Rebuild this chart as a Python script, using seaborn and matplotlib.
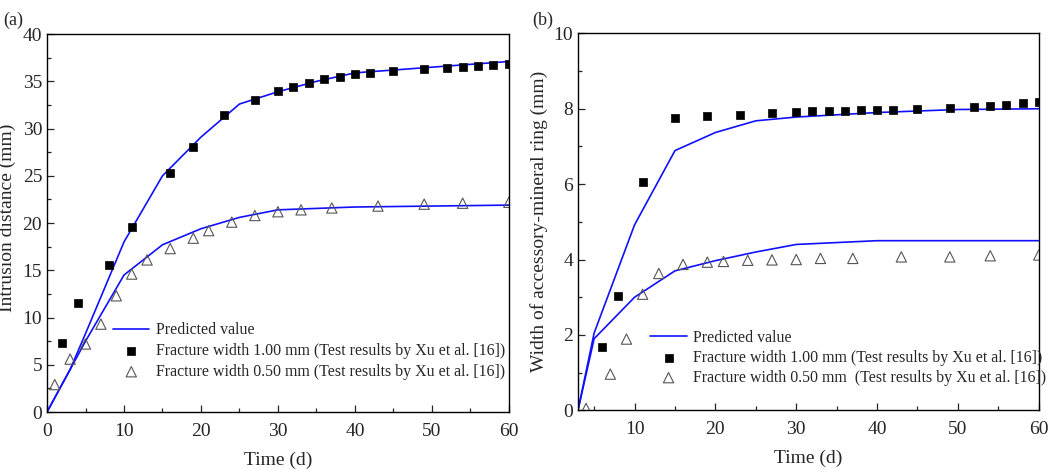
import numpy as np
import pandas as pd
import matplotlib
matplotlib.use('Agg')
import matplotlib.pyplot as plt
import seaborn as sns
from matplotlib.ticker import MultipleLocator

# ---- panel (a): intrusion distance ----
a_pred_1_x = [0, 3, 5, 10, 15, 20, 25, 30, 35, 40, 45, 50, 55, 60]
a_pred_1_y = [0, 4.5, 8.3, 18.0, 25.0, 29.1, 32.6, 33.9, 35.0, 35.9, 36.2, 36.5, 36.8, 37.1]
a_pred_2_x = [0, 3, 5, 10, 15, 20, 25, 30, 40, 50, 60]
a_pred_2_y = [0, 4.5, 7.5, 14.5, 17.7, 19.4, 20.6, 21.4, 21.7, 21.8, 21.9]

a_sq_x = [2, 4, 8, 11, 16, 19, 23, 27, 30, 32, 34, 36, 38, 40, 42, 45, 49, 52, 54, 56, 58, 60]
a_sq_y = [7.3, 11.5, 15.6, 19.6, 25.3, 28.1, 31.4, 33.0, 34.0, 34.4, 34.8, 35.2, 35.5,
          35.8, 35.9, 36.1, 36.3, 36.4, 36.5, 36.6, 36.7, 36.8]
a_tri_x = [1, 3, 5, 7, 9, 11, 13, 16, 19, 21, 24, 27, 30, 33, 37, 43, 49, 54, 60]
a_tri_y = [2.9, 5.6, 7.2, 9.3, 12.3, 14.6, 16.1, 17.3, 18.4, 19.2, 20.1, 20.8, 21.2,
           21.4, 21.6, 21.8, 22.0, 22.1, 22.2]

# ---- panel (b): width of accessory-mineral ring ----
b_pred_1_x = [3, 5, 10, 15, 20, 25, 30, 40, 50, 60]
b_pred_1_y = [0, 2.05, 4.92, 6.89, 7.37, 7.68, 7.78, 7.9, 7.98, 8.0]
b_pred_2_x = [3, 5, 10, 15, 20, 25, 30, 40, 50, 60]
b_pred_2_y = [0, 1.9, 3.0, 3.7, 3.97, 4.2, 4.4, 4.5, 4.5, 4.5]

b_sq_x = [6, 8, 11, 15, 19, 23, 27, 30, 32, 34, 36, 38, 40, 42, 45, 49, 52, 54, 56, 58, 60]
b_sq_y = [1.67, 3.02, 6.06, 7.75, 7.80, 7.84, 7.88, 7.91, 7.93, 7.95, 7.95, 7.96, 7.97,
          7.98, 8.0, 8.03, 8.05, 8.08, 8.11, 8.14, 8.19]
b_tri_x = [4, 7, 9, 11, 13, 16, 19, 21, 24, 27, 30, 33, 37, 43, 49, 54, 60]
b_tri_y = [0.05, 0.96, 1.89, 3.08, 3.63, 3.87, 3.93, 3.95, 3.98, 3.99, 4.0, 4.03, 4.03,
           4.07, 4.07, 4.10, 4.12]

sns.set_style('ticks')
plt.rcParams['font.family'] = ['Liberation Serif', 'DejaVu Serif']

fig = plt.figure(figsize=(10.52, 4.70), dpi=100)
ax1 = fig.add_axes([0.0447, 0.1234, 0.439, 0.804])
ax2 = fig.add_axes([0.5494, 0.127, 0.438, 0.802])

line_color = '#1010ff'


def draw_panel(ax, p1x, p1y, p2x, p2y, sqx, sqy, trx, try_, tri_label):
    d1 = pd.DataFrame({'t': p1x, 'v': p1y})
    d2 = pd.DataFrame({'t': p2x, 'v': p2y})
    sns.lineplot(data=d1, x='t', y='v', ax=ax, color=line_color, lw=1.2,
                 estimator=None, sort=False, label='Predicted value')
    sns.lineplot(data=d2, x='t', y='v', ax=ax, color=line_color, lw=1.2,
                 estimator=None, sort=False)
    sns.scatterplot(x=sqx, y=sqy, ax=ax, marker='s', s=40, color='black',
                    edgecolor='black', linewidth=0.5, zorder=3,
                    label='Fracture width 1.00 mm (Test results by Xu et al. [16])')
    sns.scatterplot(x=trx, y=try_, ax=ax, marker='^', s=55, facecolor='none',
                    edgecolor='#555555', linewidth=0.8, zorder=3, label=tri_label)


draw_panel(ax1, a_pred_1_x, a_pred_1_y, a_pred_2_x, a_pred_2_y,
           a_sq_x, a_sq_y, a_tri_x, a_tri_y,
           'Fracture width 0.50 mm (Test results by Xu et al. [16])')
draw_panel(ax2, b_pred_1_x, b_pred_1_y, b_pred_2_x, b_pred_2_y,
           b_sq_x, b_sq_y, b_tri_x, b_tri_y,
           'Fracture width 0.50 mm  (Test results by Xu et al. [16])')

ax1.set_xlim(0, 60)
ax1.set_ylim(0, 40)
ax1.yaxis.set_major_locator(MultipleLocator(5))
ax1.yaxis.set_minor_locator(MultipleLocator(2.5))
ax1.set_ylabel('Intrusion distance (mm)', fontsize=14)
ax1.yaxis.set_label_coords(-0.068, 0.515)

ax2.set_xlim(3, 60)
ax2.set_ylim(0, 10)
ax2.yaxis.set_major_locator(MultipleLocator(2))
ax2.yaxis.set_minor_locator(MultipleLocator(1))
ax2.set_ylabel('Width of accessory-mineral ring (mm)', fontsize=14)
ax2.yaxis.set_label_coords(-0.064, 0.5)

for ax in (ax1, ax2):
    ax.xaxis.set_major_locator(MultipleLocator(10))
    ax.xaxis.set_minor_locator(MultipleLocator(5))
    ax.set_xlabel('Time (d)', fontsize=14, labelpad=8)
    ax.tick_params(which='both', direction='in', labelsize=14)
    ax.tick_params(which='major', length=5, width=0.9)
    ax.tick_params(which='minor', length=3, width=0.9)
    ax.tick_params(axis='x', which='both', pad=8)
    for sp in ax.spines.values():
        sp.set_visible(True)
        sp.set_linewidth(1.0)
        sp.set_color('black')

ax1.legend(loc='lower left', bbox_to_anchor=(0.143, 0.085), frameon=False,
           fontsize=11.4, handlelength=2.3, handletextpad=0.4, labelspacing=0.3,
           borderpad=0, borderaxespad=0)
ax2.legend(loc='lower left', bbox_to_anchor=(0.157, 0.065), frameon=False,
           fontsize=11.4, handlelength=2.3, handletextpad=0.4, labelspacing=0.25,
           borderpad=0, borderaxespad=0)

fig.text(0.003, 0.975, '(a)', fontsize=13, va='top', ha='left')
fig.text(0.506, 0.975, '(b)', fontsize=13, va='top', ha='left')

fig.savefig('out.png', dpi=100)
